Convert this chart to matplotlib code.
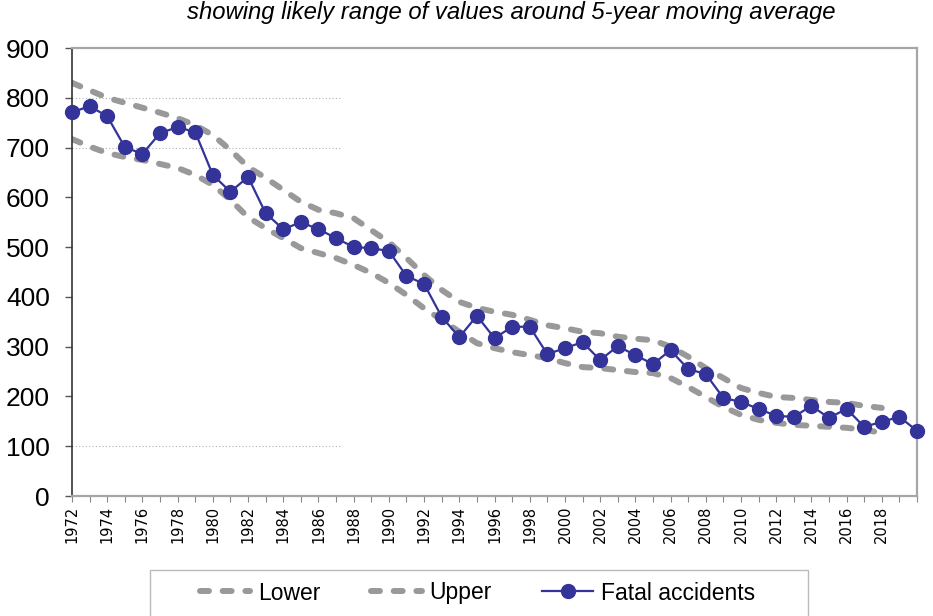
import numpy as np
from matplotlib import pyplot as plt
from matplotlib.lines import Line2D
from matplotlib.patches import Rectangle

# categories
years = np.arange(1972, 2021)
band_years = np.arange(1972, 2019)

fatal = [771, 783, 763, 701, 687, 729, 741, 731, 645, 611,
         641, 568, 536, 550, 536, 518, 500, 498, 492, 442,
         426, 360, 319, 362, 317, 340, 340, 285, 297, 309,
         273, 301, 283, 265, 293, 255, 245, 197, 189, 175,
         161, 159, 181, 157, 175, 139, 149, 159, 131]

upper = [830, 815, 800, 790, 780, 770, 759, 745, 725, 695,
         661, 639, 615, 591, 575, 568, 558, 534, 510, 478,
         444, 414, 390, 378, 370, 364, 354, 343, 337, 330,
         327, 320, 316, 313, 300, 280, 257, 237, 217, 207,
         199, 197, 193, 189, 187, 181, 177]

lower = [717, 702, 689, 681, 675, 667, 659, 645, 625, 595,
         560, 538, 518, 498, 488, 478, 464, 448, 428, 404,
         377, 354, 330, 307, 297, 289, 283, 277, 267, 259,
         257, 253, 249, 247, 237, 219, 199, 179, 163, 153,
         147, 143, 141, 139, 137, 133, 127]

title = "showing likely range of values around 5-year moving average"
yticks = [0, 100, 200, 300, 400, 500, 600, 700, 800, 900]

plt.rcParams['font.family'] = ['Liberation Sans', 'DejaVu Sans']

fig = plt.figure(figsize=(9.33, 6.16), dpi=100)
ax = fig.add_axes([72/933, 1-496/616, (917-72)/933, (496-48)/616])

band_col = '#999999'
blue = '#333399'
dash_kw = dict(color=band_col, lw=4.3, dashes=(1.5, 2.3), dash_capstyle='round')

# partial dotted gridlines like the original
ax.hlines([100, 700, 800], 1972, 1987.2, colors='#b0b0b0', linestyles=(0, (1, 2)), lw=0.8, zorder=1)

ax.plot(band_years, lower, zorder=2, **dash_kw)
ax.plot(band_years, upper, zorder=2, **dash_kw)
ax.plot(years, fatal, color=blue, lw=1.6, marker='o', ms=10, zorder=3, clip_on=False)

ax.set_xlim(1972, 2020)
ax.set_ylim(0, 900)
ax.set_yticks(yticks)
ax.set_yticklabels([str(v) for v in yticks], fontsize=19)
ax.tick_params(axis='y', length=5, width=1, pad=11, color='#555555')

ax.set_xticks(years)
ax.set_xticklabels([str(y) if (y % 2 == 0 and y < 2020) else '' for y in years],
                   rotation=90, fontsize=10.5, family='DejaVu Sans')
ax.tick_params(axis='x', length=4, width=0.8, pad=3, color='#888888')

for s in ['top', 'right', 'bottom']:
    ax.spines[s].set_color('#a6a6a6')
    ax.spines[s].set_linewidth(1.6)
ax.spines['left'].set_color('#333333')
ax.spines['left'].set_linewidth(1.2)

fig.text(0.548, 0.979, title, ha='center', va='center', fontsize=17.2, style='italic')

# legend box (runs off the bottom edge like the original)
fig.patches.append(Rectangle((150/933, -0.05), (808-150)/933, 0.05 + 46/616,
                             transform=fig.transFigure, fill=False,
                             edgecolor='#bbbbbb', lw=1))

handles = [Line2D([], [], **dash_kw),
           Line2D([], [], **dash_kw),
           Line2D([], [], color=blue, lw=1.6, marker='o', ms=10)]
leg = fig.legend(handles, ['Lower', 'Upper', 'Fatal accidents'], ncol=3,
                 loc='center left', bbox_to_anchor=(200/933, 1-593/616),
                 frameon=False, fontsize=16.5,
                 handlelength=2.2, columnspacing=2.2, handletextpad=0.35, borderpad=0,
                 borderaxespad=0)

fig.savefig('out.png', dpi=100)
